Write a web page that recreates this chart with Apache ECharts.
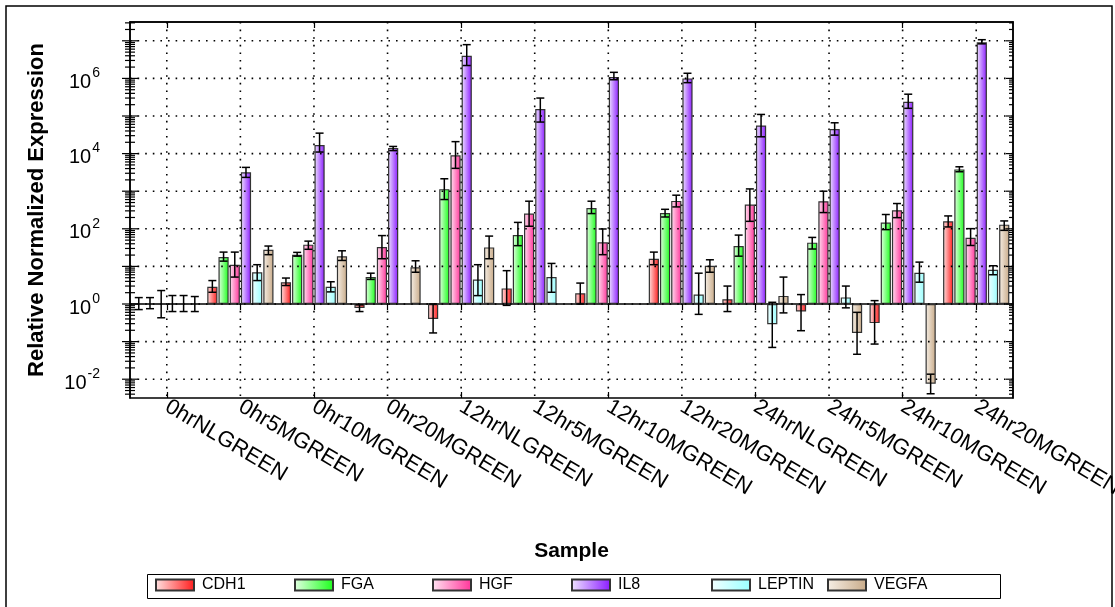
<!DOCTYPE html>
<html><head><meta charset="utf-8">
<script src="https://cdn.jsdelivr.net/npm/echarts@6/dist/echarts.min.js"></script>
<style>html,body{margin:0;padding:0;background:#fff}#c{width:1115px;height:607px}</style>
</head><body><div id="c"></div>
<script>
const categories = ['0hrNLGREEN','0hr5MGREEN','0hr10MGREEN','0hr20MGREEN','12hrNLGREEN','12hr5MGREEN','12hr10MGREEN','12hr20MGREEN','24hrNLGREEN','24hr5MGREEN','24hr10MGREEN','24hr20MGREEN'];
const genes = ['CDH1','FGA','HGF','IL8','LEPTIN','VEGFA'];

const CDH1     = [1, 2.86, 3.8, 0.78, 0.40, 2.6, 1.93, 16, 1.34, 0.63, 0.31, 158];
const CDH1_lo  = [0.71, 2.05, 3.1, 0.63, 0.17, 0.92, 1.0, 11.1, 0.63, 0.195, 0.086, 112];
const CDH1_hi  = [1.48, 4.2, 4.9, 0.95, 1.0, 7.7, 3.6, 24, 3.0, 1.78, 1.23, 220];

const FGA      = [1, 17.7, 20.5, 5.2, 1135, 68, 359, 264, 34.8, 42.8, 146, 3800];
const FGA_lo   = [0.75, 13.8, 18.7, 4.5, 600, 35.6, 254, 206, 18.7, 29, 95, 3290];
const FGA_hi   = [1.48, 24, 23.6, 6.6, 2140, 148, 542, 330, 68, 59, 240, 4460];

const HGF      = [1, 11.1, 37.9, 32.7, 9000, 254, 43.6, 552, 442, 542, 312, 58];
const HGF_lo   = [0.43, 5.2, 28.5, 16, 4050, 117, 20.5, 382, 158, 270, 198, 36];
const HGF_hi   = [2.28, 24, 47, 66, 20800, 542, 99, 783, 1150, 1000, 470, 101];

const IL8      = [1, 3170, 17000, 14000, 4.0e6, 1.53e5, 1.09e6, 1.0e6, 5.6e4, 4.5e4, 2.39e5, 9.1e6];
const IL8_lo   = [0.63, 2330, 11000, 12000, 2.2e6, 6.9e4, 9.2e5, 7.7e5, 2.8e4, 3.1e4, 1.6e5, 8.3e6];
const IL8_hi   = [1.68, 4300, 35000, 15500, 7.9e6, 3.0e5, 1.45e6, 1.37e6, 1.1e5, 6.6e4, 3.8e5, 1.07e7];

const LEPTIN    = [1, 7.0, 2.86, null, 4.5, 5.2, null, 1.78, 0.29, 1.5, 6.8, 8.1];
const LEPTIN_lo = [0.63, 4.2, 2.1, null, 1.67, 2.05, null, 0.53, 0.07, 0.79, 3.8, 6.0];
const LEPTIN_hi = [1.68, 11.1, 3.9, null, 11.1, 12, null, 6.6, 1.11, 3.0, 13, 10.4];

const VEGFA     = [1, 27.8, 18.7, 9.5, 32, null, null, 10.4, 1.64, 0.17, 0.0076, 129];
const VEGFA_lo  = [0.63, 20.5, 14.4, 7.0, 16, null, null, 7.0, 0.58, 0.046, 0.0041, 91];
const VEGFA_hi  = [1.58, 34.8, 26, 14.1, 64, null, null, 15, 5.2, 0.6, 0.0136, 162];

const yLabelExponents = [-2, 0, 2, 4, 6];
const Y_MIN = Math.pow(10, -2.5);
const Y_MAX = Math.pow(10, 7.5);

const values = [CDH1, FGA, HGF, IL8, LEPTIN, VEGFA];
const lows   = [CDH1_lo, FGA_lo, HGF_lo, IL8_lo, LEPTIN_lo, VEGFA_lo];
const highs  = [CDH1_hi, FGA_hi, HGF_hi, IL8_hi, LEPTIN_hi, VEGFA_hi];
const lightColors = ['#ffe4e4', '#e4ffe4', '#ffe4f2', '#efe4ff', '#f2ffff', '#f6efe6'];
const darkColors  = ['#ff1a1a', '#1aff1a', '#ff3399', '#8a1aff', '#99ffff', '#c8aa88'];
const CAT_GAP = 0.1, BAR_GAP = 0.1;
const FONT = 'Liberation Sans, Arial, sans-serif';
const legendLeft = [155, 294, 432, 571, 711, 827];

const chart = echarts.init(document.getElementById('c'), null, {renderer: 'canvas'});

const barSeries = genes.map((g, k) => ({
  name: g, type: 'bar', xAxisIndex: 0, yAxisIndex: 0, z: 3,
  barCategoryGap: (CAT_GAP * 100) + '%', barGap: (BAR_GAP * 100) + '%',
  data: values[k],
  itemStyle: {
    color: new echarts.graphic.LinearGradient(0, 0, 1, 0, [
      {offset: 0, color: lightColors[k]}, {offset: 1, color: darkColors[k]}]),
    borderColor: '#333', borderWidth: 1.2
  }
}));

const errData = [];
genes.forEach((g, k) => {
  values[k].forEach((v, i) => {
    if (v != null && lows[k][i] != null) errData.push([i, k, lows[k][i], highs[k][i]]);
  });
});

const tickData = [];
for (let e = -3; e <= 7; e++) {
  for (let m = 1; m <= 9; m++) {
    const v = m * Math.pow(10, e);
    if (v >= Y_MIN && v <= Y_MAX) tickData.push([0, v, m === 1 ? 1 : 0]);
  }
}

function barOffset(band, k) {
  const n = genes.length;
  const avail = band * (1 - CAT_GAP);
  const bw = avail / (n + (n - 1) * BAR_GAP);
  return {x: -avail / 2 + k * bw * (1 + BAR_GAP) + bw / 2, w: bw};
}

const legends = genes.map((g, k) => ({
  data: [{name: g, icon: 'rect'}], left: legendLeft[k], top: 577, orient: 'horizontal',
  itemWidth: 38, itemHeight: 11, padding: 0, selectedMode: false,
  textStyle: {fontSize: 16, color: '#000', fontFamily: FONT, padding: [0, 0, 0, 3]}
}));

const option = {
  animation: false,
  backgroundColor: '#fff',
  grid: {left: 130, right: 102, top: 22, bottom: 209, show: true, borderColor: '#000', borderWidth: 1.5,
         outerBoundsMode: 'none', containLabel: false},
  legend: legends,
  xAxis: [{
    type: 'category', data: categories, position: 'bottom',
    axisLine: {show: true, lineStyle: {color: '#000', width: 1.5}},
    axisTick: {show: true, alignWithLabel: true, length: 6, lineStyle: {color: '#000', width: 1.2}},
    axisLabel: {interval: 0, rotate: -31, fontSize: 22, color: '#000', fontFamily: FONT, margin: 7},
    splitLine: {show: false},
    name: 'Sample', nameLocation: 'middle', nameGap: 143,
    nameTextStyle: {fontSize: 21, fontWeight: 'bold', color: '#000', fontFamily: FONT}
  }, {
    type: 'category', data: categories, position: 'top',
    axisLine: {show: true, lineStyle: {color: '#000', width: 1.5}},
    axisTick: {show: true, alignWithLabel: true, inside: true, length: 6, lineStyle: {color: '#000', width: 1.2}},
    axisLabel: {show: false}, splitLine: {show: false}
  }, {
    type: 'category', data: categories, position: 'bottom',
    axisLine: {show: false},
    axisTick: {show: true, alignWithLabel: true, inside: true, length: 6, lineStyle: {color: '#000', width: 1.2}},
    axisLabel: {show: false}, splitLine: {show: false}
  }],
  yAxis: [{
    type: 'log', logBase: 10, min: Y_MIN, max: Y_MAX, position: 'left',
    axisLine: {show: true, lineStyle: {color: '#000', width: 1.5}},
    axisTick: {show: false}, splitLine: {show: false}, minorTick: {show: false},
    axisLabel: {show: false},
    name: 'Relative Normalized Expression', nameLocation: 'middle', nameGap: 82,
    nameTextStyle: {fontSize: 22, fontWeight: 'bold', color: '#000', fontFamily: FONT}
  }, {
    type: 'log', logBase: 10, min: Y_MIN, max: Y_MAX, position: 'right',
    axisLine: {show: true, lineStyle: {color: '#000', width: 1.5}},
    axisTick: {show: false}, axisLabel: {show: false}, splitLine: {show: false}
  }, {
    // exponent axis, used only to place the power-of-ten labels
    type: 'value', min: Math.log10(Y_MIN), max: Math.log10(Y_MAX), splitNumber: 10, position: 'left',
    axisLine: {show: false}, axisTick: {show: false}, splitLine: {show: false},
    axisLabel: {
      margin: 30, color: '#000', fontFamily: FONT, showMinLabel: true, showMaxLabel: true,
      formatter: function (v) {
        const r = Math.round(v);
        if (Math.abs(v - r) > 1e-6 || yLabelExponents.indexOf(r) < 0) return '';
        return '{b|10}{s|' + r + '}';
      },
      rich: {
        b: {fontSize: 20, color: '#000', fontFamily: FONT, padding: [8, 0, 0, 0]},
        s: {fontSize: 14, color: '#000', fontFamily: FONT, padding: [0, 0, 10, 1]}
      }
    }
  }],
  graphic: [{
    type: 'rect', silent: true, z: 100,
    shape: {x: 6, y: 6, width: 1106, height: 640},
    style: {fill: null, stroke: '#000', lineWidth: 1.5}
  }, {
    type: 'rect', silent: true, z: 100,
    shape: {x: 147.5, y: 574.5, width: 853, height: 24},
    style: {fill: null, stroke: '#000', lineWidth: 1}
  }],
  series: [
    {
      type: 'custom', name: 'vgrid', xAxisIndex: 0, yAxisIndex: 0, z: 1, silent: true,
      encode: {x: 0, y: 1},
      data: categories.map((c, i) => [i, 1]),
      renderItem: function (params, api) {
        const cs = params.coordSys;
        const x = api.coord([api.value(0), 1])[0];
        return {type: 'line', shape: {x1: x, y1: cs.y, x2: x, y2: cs.y + cs.height},
                style: {stroke: '#000', lineWidth: 1.6, lineDash: [1.6, 6]}};
      }
    },
    {
      type: 'custom', name: 'yticks', xAxisIndex: 0, yAxisIndex: 0, z: 4, silent: true, clip: false,
      encode: {x: 0, y: 1},
      data: tickData,
      renderItem: function (params, api) {
        const cs = params.coordSys;
        const y = api.coord([0, api.value(1)])[1];
        const major = api.value(2) === 1;
        const L = cs.x, R = cs.x + cs.width;
        const st = {stroke: '#000', lineWidth: 1.2};
        const ch = [
          {type: 'line', shape: {x1: L - (major ? 8 : 5), y1: y, x2: L + (major ? 8 : 5), y2: y}, style: st},
          {type: 'line', shape: {x1: R - (major ? 7 : 4), y1: y, x2: R, y2: y}, style: st}
        ];
        if (major) {
          ch.push({type: 'line', z2: -10, shape: {x1: L, y1: y, x2: R, y2: y},
                   style: {stroke: '#000', lineWidth: 1.6, lineDash: [1.6, 6]}});
        }
        return {type: 'group', children: ch};
      }
    }
  ].concat(barSeries).concat([{
    type: 'custom', name: 'errors', xAxisIndex: 0, yAxisIndex: 0, z: 5, silent: true,
    encode: {x: 0, y: [2, 3]},
    data: errData,
    renderItem: function (params, api) {
      const cs = params.coordSys;
      const band = cs.width / categories.length;
      const i = api.value(0), k = api.value(1);
      const off = barOffset(band, k);
      const x = api.coord([i, 1])[0] + off.x;
      const yl = api.coord([i, api.value(2)])[1];
      const yh = api.coord([i, api.value(3)])[1];
      const hw = 4;
      const st = {stroke: '#000', lineWidth: 1.5};
      return {type: 'group', children: [
        {type: 'line', shape: {x1: x, y1: yl, x2: x, y2: yh}, style: st},
        {type: 'line', shape: {x1: x - hw, y1: yh, x2: x + hw, y2: yh}, style: st},
        {type: 'line', shape: {x1: x - hw, y1: yl, x2: x + hw, y2: yl}, style: st}
      ]};
    }
  }])
};
chart.setOption(option);
</script></body></html>
